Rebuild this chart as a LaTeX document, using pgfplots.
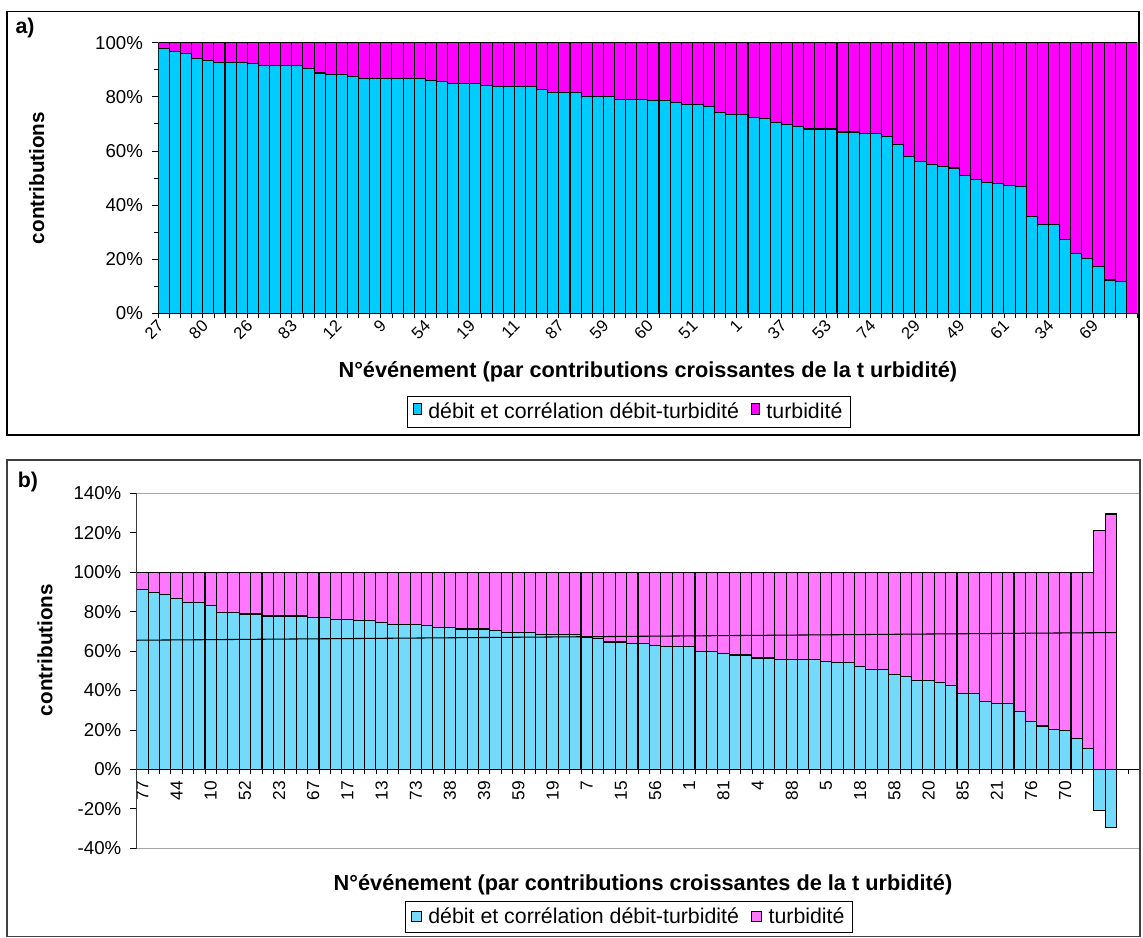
\documentclass[border=0pt]{standalone}
\usepackage{pgfplots}
\pgfplotsset{compat=1.18}
\usepackage{pgfplotstable}
\usepackage{fontspec}
\setmainfont{Liberation Sans}
\definecolor{cyanA}{RGB}{0,204,255}
\definecolor{magA}{RGB}{255,0,255}
\definecolor{cyanB}{RGB}{115,218,250}
\definecolor{magB}{RGB}{255,120,255}

\pgfplotstableread{
x blue turb
0 97.8 2.2
1 96.7 3.3
2 95.9 4.1
3 94.1 5.9
4 93.5 6.5
5 92.8 7.2
6 92.8 7.2
7 92.8 7.2
8 92.2 7.8
9 91.5 8.5
10 91.5 8.5
11 91.5 8.5
12 91.5 8.5
13 90.4 9.6
14 88.8 11.2
15 88.1 11.9
16 88.1 11.9
17 87.5 12.5
18 86.7 13.3
19 86.7 13.3
20 86.7 13.3
21 86.7 13.3
22 86.7 13.3
23 86.7 13.3
24 86.0 14.0
25 85.6 14.4
26 84.9 15.1
27 84.9 15.1
28 84.9 15.1
29 84.3 15.7
30 83.7 16.3
31 83.7 16.3
32 83.7 16.3
33 83.7 16.3
34 82.6 17.4
35 81.5 18.5
36 81.5 18.5
37 81.5 18.5
38 80.2 19.8
39 80.2 19.8
40 80.2 19.8
41 79.0 21.0
42 79.0 21.0
43 79.0 21.0
44 78.5 21.5
45 78.5 21.5
46 77.9 22.1
47 77.2 22.8
48 77.2 22.8
49 76.5 23.5
50 74.2 25.8
51 73.6 26.4
52 73.6 26.4
53 72.5 27.5
54 71.9 28.1
55 70.6 29.4
56 69.9 30.1
57 69.1 30.9
58 68.1 31.9
59 68.1 31.9
60 68.1 31.9
61 67.0 33.0
62 67.0 33.0
63 66.4 33.6
64 66.4 33.6
65 65.4 34.6
66 62.3 37.7
67 58.0 42.0
68 56.2 43.8
69 54.9 45.1
70 54.3 45.7
71 53.7 46.3
72 50.9 49.1
73 49.6 50.4
74 48.4 51.6
75 47.9 52.1
76 47.3 52.7
77 46.7 53.3
78 35.8 64.2
79 32.7 67.3
80 32.7 67.3
81 27.4 72.6
82 22.0 78.0
83 20.1 79.9
84 17.3 82.7
85 12.3 87.7
86 11.7 88.3
87 0.0 100.0
}\tabA

\pgfplotstableread{
x blue turb
0 91.2 8.8
1 89.7 10.3
2 88.8 11.2
3 86.5 13.5
4 84.6 15.4
5 84.6 15.4
6 83.0 17.0
7 79.6 20.4
8 79.6 20.4
9 78.8 21.2
10 78.8 21.2
11 77.8 22.2
12 77.8 22.2
13 77.8 22.2
14 77.8 22.2
15 77.0 23.0
16 77.0 23.0
17 76.1 23.9
18 76.1 23.9
19 75.3 24.7
20 75.3 24.7
21 74.5 25.5
22 73.6 26.4
23 73.6 26.4
24 73.6 26.4
25 72.8 27.2
26 71.9 28.1
27 71.9 28.1
28 71.2 28.8
29 71.2 28.8
30 71.2 28.8
31 70.6 29.4
32 69.2 30.8
33 69.2 30.8
34 69.2 30.8
35 68.4 31.6
36 68.4 31.6
37 68.4 31.6
38 68.4 31.6
39 66.8 33.2
40 66.2 33.8
41 64.6 35.4
42 64.6 35.4
43 63.8 36.2
44 63.8 36.2
45 62.9 37.1
46 62.3 37.7
47 62.3 37.7
48 62.3 37.7
49 59.9 40.1
50 59.9 40.1
51 58.9 41.1
52 58.0 42.0
53 58.0 42.0
54 56.5 43.5
55 56.5 43.5
56 55.7 44.3
57 55.7 44.3
58 55.7 44.3
59 55.7 44.3
60 54.8 45.2
61 54.1 45.9
62 54.1 45.9
63 52.3 47.7
64 50.6 49.4
65 50.6 49.4
66 48.2 51.8
67 46.9 53.1
68 45.2 54.8
69 45.2 54.8
70 44.2 55.8
71 42.6 57.4
72 38.4 61.6
73 38.4 61.6
74 34.3 65.7
75 33.3 66.7
76 33.3 66.7
77 29.4 70.6
78 24.5 75.5
79 22.0 78.0
80 20.3 79.7
81 19.5 80.5
82 15.6 84.4
83 10.8 89.2
84 -21.0 121.0
85 -29.5 129.5
}\tabB

\pgfplotsset{
  common/.style={
    scale only axis,
    xmin=-0.5, xmax=87.5,
    axis y line*=left,
    tick align=outside,
    major tick length=5pt, minor tick length=3.5pt,
    every tick/.append style={black, line width=0.6pt},
    axis line style={black, line width=0.8pt},
    major x tick style={draw=none},
    minor xtick={-0.5,0.5,...,87.5},
    /pgf/number format/assume math mode=true,
    yticklabel={\pgfmathprintnumber{\tick}\%},
    y tick label style={font=\fontsize{14}{16}\selectfont, xshift=-3pt},
    xlabel={N°événement (par contributions croissantes de la t urbidité)},
    ylabel={contributions},
    xlabel style={font=\bfseries\fontsize{16.3}{19}\selectfont},
    ylabel style={font=\bfseries\fontsize{15.5}{18}\selectfont},
    legend cell align=left,
    legend image code/.code={\draw[#1, line width=0.6pt] (0pt,-3.8pt) rectangle (7.6pt,3.8pt);},
    legend style={legend columns=2, draw=black, line width=0.6pt,
      font=\fontsize{16}{19}\selectfont, inner xsep=4pt, inner ysep=3pt,
      /tikz/every odd column/.append style={column sep=3pt},
      /tikz/every even column/.append style={column sep=7pt}},
    hide obscured x ticks=false, hide obscured y ticks=false,
  }
}

\begin{document}
\begin{tikzpicture}
\useasboundingbox (0,0) rectangle (857.25pt,703.5pt);

% ---------- panel a ----------
\begin{axis}[common,
  at={(118.7pt,468.5pt)}, anchor=south west,
  width=734.4pt, height=203pt,
  ybar stacked, bar width=1,
  ymin=0, ymax=100,
  axis x line*=bottom,
  ytick={0,20,...,100}, minor ytick={10,30,...,90},
  xtick={0,4,...,84},
  xticklabels={27,80,26,83,12,9,54,19,11,87,59,60,51,1,37,53,74,29,49,61,34,69},
  x tick label style={rotate=45, anchor=east, font=\fontsize{12.5}{14}\selectfont},
  xlabel style={at={(axis description cs:0.5,-0.217)}, anchor=center},
  ylabel style={at={(axis description cs:-0.124,0.5)}, anchor=center},
  legend style={at={(0.4807,-0.305)}, anchor=north},
]
\addlegendimage{fill=cyanA, draw=black}
\addlegendentry{débit et corrélation débit-turbidité}
\addlegendimage{fill=magA, draw=black}
\addlegendentry{turbidité}
\addplot[fill=cyanA, draw=black, line width=0.8pt, forget plot] table[x=x, y=blue]{\tabA};
\addplot[fill=magA, draw=black, line width=0.8pt, forget plot] table[x=x, y=turb]{\tabA};
\addplot[sharp plot, stack plots=false, black, line width=1.2pt, forget plot] coordinates {(-0.5,65) (87.5,65)};
\end{axis}

% ---------- panel b ----------
\begin{axis}[common,
  at={(102.5pt,67.3pt)}, anchor=south west,
  width=752pt, height=266.2pt,
  ymin=-40, ymax=140,
  axis x line*=middle,
  ytick={-40,-20,...,140},
  xtick={0,3,...,84},
  xticklabels={77,44,10,52,23,67,17,13,73,38,39,59,19,7,15,56,1,81,4,88,5,18,58,20,85,21,76,70,47},
  x tick label style={rotate=90, anchor=east, font=\fontsize{13}{15}\selectfont},
  xlabel style={at={(axis description cs:0.505,-0.104)}, anchor=center},
  ylabel style={at={(axis description cs:-0.0915,0.5586)}, anchor=center},
  legend style={at={(0.491,-0.148)}, anchor=north},
]
\draw[gray!70, line width=0.8pt] (rel axis cs:0,0) rectangle (rel axis cs:1,1);
\addlegendimage{fill=cyanB, draw=black}
\addlegendentry{débit et corrélation débit-turbidité}
\addlegendimage{fill=magB, draw=black}
\addlegendentry{turbidité}
\addplot[ybar, bar width=1, bar shift=0pt, fill=magB, draw=black, line width=0.8pt, forget plot]
  table[x=x, y expr={\thisrow{turb}+max(\thisrow{blue},0)}]{\tabB};
\addplot[ybar, bar width=1, bar shift=0pt, fill=cyanB, draw=black, line width=0.8pt, forget plot]
  table[x=x, y=blue]{\tabB};
\addplot[black, line width=0.8pt, forget plot] coordinates {(-0.5,65.5) (85.5,69.4)};
\end{axis}

% frames and panel letters
\draw[black, line width=0.8pt] (5.25pt,377.25pt) rectangle (854.25pt,694.7pt);
\draw[black!75, line width=0.8pt] (5.25pt,1.2pt) rectangle (855pt,358.5pt);
\node[font=\bfseries\fontsize{16}{19}\selectfont] at (18.75pt,682.5pt) {a)};
\node[font=\bfseries\fontsize{16}{19}\selectfont] at (21pt,342pt) {b)};
\end{tikzpicture}
\end{document}
